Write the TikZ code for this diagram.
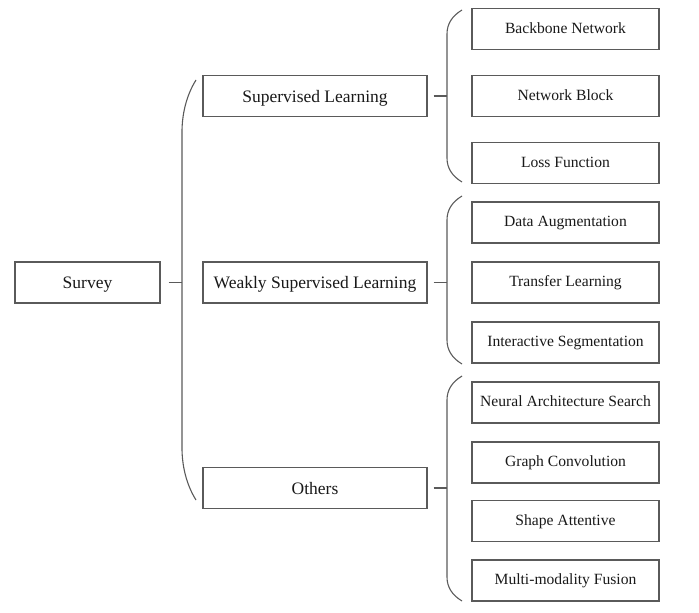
\documentclass[tikz,border=0pt]{standalone}
\usepackage{fontspec}
\setmainfont{Liberation Serif}
\begin{document}
\begin{tikzpicture}[x=1pt,y=-1pt,
  box/.style={draw=linegray, line width=1.1pt, inner sep=0pt, anchor=center, minimum height=41pt, text=black!90},
  leaf/.style={box, minimum width=187pt, font=\fontsize{15.6}{18}\selectfont, text height=11pt, text depth=3pt},
  mid/.style={box, minimum width=224pt, font=\fontsize{17.5}{20}\selectfont, text height=14pt, text depth=2pt},
  root/.style={box, minimum width=145pt, font=\fontsize{17.5}{20}\selectfont, text height=14pt, text depth=3pt},
  link/.style={draw=linegray, line width=1.1pt},
  bracket/.style={draw=linegray, line width=1.1pt}]
\definecolor{linegray}{RGB}{90,90,90}
\useasboundingbox (0,0) rectangle (699,613);

\node[root] (s) at (87.5,282.5) {Survey};

\node[mid] (sl) at (315,96) {Supervised Learning};
\node[mid] (wsl) at (315,282.5) {Weakly Supervised Learning};
\node[mid] (ot) at (315,488) {Others};

\node[leaf] (bb) at (565.5,29) {Backbone Network};
\node[leaf] (nb) at (565.5,96) {Network Block};
\node[leaf] (lf) at (565.5,163) {Loss Function};
\node[leaf] (da) at (565.5,222.5) {Data Augmentation};
\node[leaf] (tl) at (565.5,282.5) {Transfer Learning};
\node[leaf] (is) at (565.5,342.5) {Interactive Segmentation};
\node[leaf] (nas) at (565.5,402.5) {Neural Architecture Search};
\node[leaf] (gc) at (565.5,462.5) {Graph Convolution};
\node[leaf] (sa) at (565.5,521) {Shape Attentive};
\node[leaf] (mf) at (565.5,580.5) {Multi-modality Fusion};

% left bracket
\draw[bracket] (196,80) .. controls (186,96) and (182,115) .. (182,132) -- (182,448) .. controls (182,465) and (186,484) .. (196,500);
\coordinate (b0) at (182,282.5);
% right brackets
\draw[bracket] (462,10) .. controls (452,16) and (447,24) .. (447,34) -- (447,158) .. controls (447,168) and (452,176) .. (462,182);
\coordinate (b1) at (447,96);
\draw[bracket] (462,196) .. controls (452,202) and (447,210) .. (447,220) -- (447,340) .. controls (447,350) and (452,358) .. (462,364);
\coordinate (b2) at (447,282.5);
\draw[bracket] (462,376) .. controls (452,382) and (447,390) .. (447,400) -- (447,577) .. controls (447,587) and (452,595) .. (462,601);
\coordinate (b3) at (447,488);

\draw[link] ([xshift=8pt]s.east) -- (b0);
\draw[link] ([xshift=6pt]sl.east) -- (b1);
\draw[link] ([xshift=6pt]wsl.east) -- (b2);
\draw[link] ([xshift=6pt]ot.east) -- (b3);
\end{tikzpicture}
\end{document}
